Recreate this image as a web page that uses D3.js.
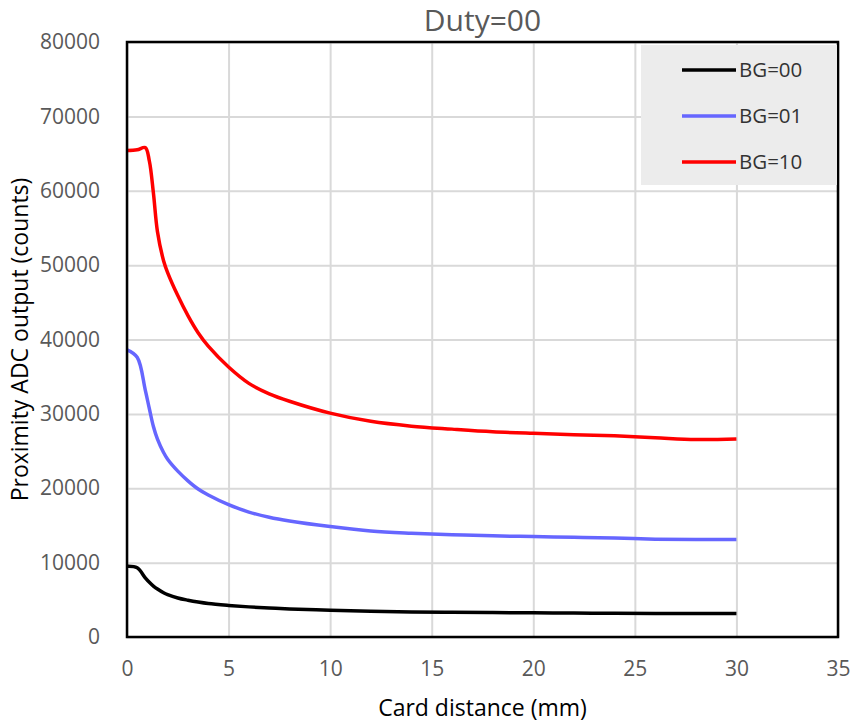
<!DOCTYPE html>
<html>
<head>
<meta charset="utf-8">
<script src="https://cdn.jsdelivr.net/npm/d3@7"></script>
<style>
  body { margin: 0; background: #fff; }
  text { font-family: "Open Sans", "Noto Sans", sans-serif; }
</style>
</head>
<body>
<div id="container"></div>
<script>
const width = 855;
const height = 726;

// card distance in mm, shared by all three series
const distance = [0, 0.5, 0.9, 1.1, 1.3, 1.5, 1.8, 2, 2.5, 3, 3.5, 4, 5, 6, 7, 8, 10, 12, 14, 16, 18, 20, 22, 24, 26, 28, 30];
const bg00 = [9500, 9300, 7950, 7350, 6850, 6450, 5950, 5700, 5250, 4950, 4700, 4500, 4250, 4050, 3900, 3780, 3600, 3450, 3370, 3320, 3280, 3250, 3220, 3180, 3160, 3160, 3160];
const bg01 = [38600, 37600, 33200, 30700, 28300, 26600, 24800, 23900, 22300, 21000, 19900, 19100, 17800, 16800, 16100, 15600, 14850, 14250, 13950, 13750, 13600, 13500, 13400, 13300, 13150, 13100, 13100];
const bg10 = [65400, 65500, 65800, 64000, 59700, 54500, 50600, 49000, 45900, 43200, 40900, 39100, 36300, 34100, 32700, 31700, 30100, 29000, 28350, 27950, 27600, 27380, 27200, 27050, 26800, 26550, 26620];

const seriesNames = ['BG=00', 'BG=01', 'BG=10'];
const seriesColors = ['#000000', '#6666ff', '#ff0000'];
const xTicks = [0, 5, 10, 15, 20, 25, 30, 35];
const yTicks = [0, 10000, 20000, 30000, 40000, 50000, 60000, 70000, 80000];

const series = [bg00, bg01, bg10].map((vals, i) => ({
    name: seriesNames[i],
    color: seriesColors[i],
    points: vals.map((v, j) => ({ x: distance[j], y: v }))
}));

const margin = { left: 127, right: 17, top: 42, bottom: 89 };
const plotW = width - margin.left - margin.right;
const plotH = height - margin.top - margin.bottom;

const x = d3.scaleLinear().domain([0, 35]).range([0, plotW]);
const y = d3.scaleLinear().domain([0, 80000]).range([plotH, 0]);

const svg = d3.select('#container').append('svg')
    .attr('width', width)
    .attr('height', height);

const g = svg.append('g')
    .attr('transform', `translate(${margin.left},${margin.top})`);

// grid
g.append('g')
    .attr('class', 'grid')
    .call(d3.axisLeft(y).tickValues(yTicks).tickSize(-plotW).tickFormat(''))
    .call(s => s.select('.domain').remove())
    .selectAll('line').attr('stroke', '#d9d9d9').attr('stroke-width', 2);

g.append('g')
    .attr('class', 'grid')
    .attr('transform', `translate(0,${plotH})`)
    .call(d3.axisBottom(x).tickValues(xTicks).tickSize(-plotH).tickFormat(''))
    .call(s => s.select('.domain').remove())
    .selectAll('line').attr('stroke', '#d9d9d9').attr('stroke-width', 2);

// tick labels
g.append('g')
    .call(d3.axisLeft(y).tickValues(yTicks).tickSize(0).tickPadding(27).tickFormat(d3.format('d')))
    .call(s => s.select('.domain').remove())
    .selectAll('text')
    .attr('fill', '#595959')
    .style('font-size', '21px');

g.append('g')
    .attr('transform', `translate(0,${plotH})`)
    .call(d3.axisBottom(x).tickValues(xTicks).tickSize(0).tickPadding(24))
    .call(s => s.select('.domain').remove())
    .selectAll('text')
    .attr('fill', '#595959')
    .style('font-size', '21px');

// lines
const line = d3.line()
    .x(d => x(d.x))
    .y(d => y(d.y))
    .curve(d3.curveCatmullRom.alpha(0.5));

g.append('g')
    .selectAll('path')
    .data(series)
    .join('path')
    .attr('fill', 'none')
    .attr('stroke', d => d.color)
    .attr('stroke-width', 3.5)
    .attr('stroke-linejoin', 'round')
    .attr('d', d => line(d.points));

// frame
g.append('rect')
    .attr('width', plotW)
    .attr('height', plotH)
    .attr('fill', 'none')
    .attr('stroke', '#000')
    .attr('stroke-width', 2.5);

// legend
const legend = svg.append('g').attr('transform', 'translate(641,45)');
legend.append('rect')
    .attr('width', 196)
    .attr('height', 140)
    .attr('fill', '#ececec');

const item = legend.selectAll('g.item')
    .data(series)
    .join('g')
    .attr('class', 'item')
    .attr('transform', (d, i) => `translate(0,${25 + i * 46})`);

item.append('line')
    .attr('x1', 41).attr('x2', 95)
    .attr('stroke', d => d.color)
    .attr('stroke-width', 3.5);

item.append('text')
    .attr('x', 98)
    .attr('dy', '0.35em')
    .attr('fill', '#333')
    .style('font-size', '20.5px')
    .text(d => d.name);

// titles
svg.append('text')
    .attr('x', margin.left + plotW / 2)
    .attr('y', 31)
    .attr('text-anchor', 'middle')
    .attr('fill', '#595959')
    .style('font-size', '30px')
    .text('Duty=00');

svg.append('text')
    .attr('x', margin.left + plotW / 2)
    .attr('y', 716)
    .attr('text-anchor', 'middle')
    .attr('fill', '#000')
    .style('font-size', '23px')
    .text('Card distance (mm)');

svg.append('text')
    .attr('transform', `translate(28,${margin.top + plotH / 2}) rotate(-90)`)
    .attr('text-anchor', 'middle')
    .attr('fill', '#000')
    .style('font-size', '23px')
    .text('Proximity ADC output (counts)');
</script>
</body>
</html>
